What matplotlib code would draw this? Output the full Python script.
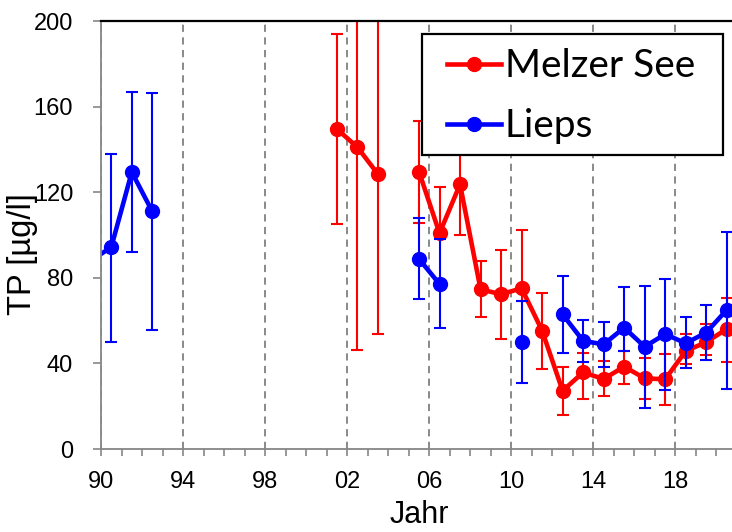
import numpy as np
import matplotlib
matplotlib.use('Agg')
import matplotlib.pyplot as plt
from matplotlib.patches import Rectangle

# Melzer See, Jahresmittel TP (Werte in Jahresmitte)
melzer_years = [2001.5, 2002.5, 2003.5, 2004.5, 2005.5, 2006.5, 2007.5, 2008.5, 2009.5, 2010.5,
                2011.5, 2012.5, 2013.5, 2014.5, 2015.5, 2016.5, 2017.5, 2018.5, 2019.5, 2020.5]
melzer_tp = [149.5, 141, 128.4, np.nan, 129.6, 100.8, 123.7, 74.6, 72.3, 75.1,
             55.3, 27.2, 35.8, 32.7, 38.5, 33, 32.6, 45.8, 49.9, 56.1]
melzer_lo = [105.3, 46.2, 53.9, np.nan, 105.8, 98.6, 99.8, 61.5, 51.5, 69.3,
             37.2, 16.0, 23.2, 24.9, 30.2, 23.5, 20.4, 39.7, 44, 40.5]
melzer_hi = [194, 230, 220, np.nan, 153.4, 122.4, 140, 87.9, 93, 102.2,
             73, 38.5, 45, 41.1, 45.9, 42.4, 44.5, 53.6, 58.4, 70.7]

# Lieps
lieps_years = [1989.5, 1990.5, 1991.5, 1992.5, 1993.5, 2005.5, 2006.5, 2007.5, 2010.5, 2011.5,
               2012.5, 2013.5, 2014.5, 2015.5, 2016.5, 2017.5, 2018.5, 2019.5, 2020.5]
lieps_tp = [88, 94.3, 129.4, 111, np.nan, 88.8, 77.1, np.nan, 50.1, np.nan,
            62.9, 50.5, 48.9, 56.7, 47.8, 53.7, 49.4, 54.4, 65]
lieps_lo = [np.nan, 50.1, 91.9, 55.6, np.nan, 70.1, 56.5, np.nan, 31, np.nan,
            44.9, 40.5, 38.2, 46, 19.3, 27.6, 37.7, 41.6, 28]
lieps_hi = [np.nan, 138, 167, 166.4, np.nan, 107.8, 98, np.nan, 69.3, np.nan,
            80.7, 60.1, 59.3, 75.5, 76.2, 79.3, 61.5, 67.1, 101.2]

major_years = list(range(1990, 2019, 4))


def draw_series(ax, years, vals, lo, hi, color, label):
    years = np.array(years)
    vals = np.array(vals)
    lo = np.array(lo)
    hi = np.array(hi)
    ok = ~np.isnan(lo)
    ax.errorbar(years[ok], vals[ok], yerr=[vals[ok] - lo[ok], hi[ok] - vals[ok]],
                fmt='none', ecolor=color, elinewidth=1.5, capsize=4.5, capthick=1.5)
    ax.plot(years, vals, color=color, lw=3.3, marker='o', ms=10, label=label)


fig = plt.figure(figsize=(7.32, 5.32), dpi=100)
ax = fig.add_axes([101 / 732, 83 / 532, 636 / 732, 428 / 532])

draw_series(ax, melzer_years, melzer_tp, melzer_lo, melzer_hi, '#ff0000', 'Melzer See')
draw_series(ax, lieps_years, lieps_tp, lieps_lo, lieps_hi, '#0000ff', 'Lieps')

ax.set_xlim(1990, 2021)
ax.set_ylim(0, 200)
ax.set_xticks(major_years)
ax.set_xticklabels(['%02d' % (y % 100) for y in major_years])
ax.set_xticks(range(1990, 2022), minor=True)
ax.set_yticks(range(0, 201, 40))

ax.xaxis.grid(True, which='major', color='#808080', lw=1.3, ls=(0, (4, 3)))
ax.set_axisbelow(True)

grey = '#868686'
for s in ['left', 'bottom']:
    ax.spines[s].set_color(grey)
    ax.spines[s].set_linewidth(1.3)
ax.spines['top'].set_color('black')
ax.spines['top'].set_linewidth(1.6)
ax.spines['right'].set_color('black')

ax.tick_params(axis='both', which='both', direction='out', color=grey, width=1.2,
               labelsize=17, labelcolor='black')
ax.tick_params(axis='x', which='both', length=5, pad=11, top=False)
ax.tick_params(axis='y', which='major', length=6, pad=14, right=False)
for lab in ax.get_xticklabels() + ax.get_yticklabels():
    lab.set_fontfamily('Liberation Sans')

ax.set_xlabel('Jahr', fontsize=22, fontfamily='Liberation Sans')
ax.xaxis.set_label_coords(0.5, -0.12)
fig.text(22.4 / 732, 1 - 254.5 / 532, 'TP [µg/l]', fontsize=23.5, fontfamily='Liberation Sans',
         rotation=90, ha='center', va='center')

# Legendenrahmen wie im Original (eckig, schwarz)
ax.add_patch(Rectangle((0.5047, 0.687), 0.4733, 0.2826, transform=ax.transAxes,
                       facecolor='white', edgecolor='black', lw=1.6, zorder=4.5, clip_on=False))
leg = ax.legend(loc='center left', bbox_to_anchor=(0.544, 0.824), borderaxespad=0,
                frameon=False, prop={'family': 'Lato', 'size': 28},
                handlelength=1.39, handletextpad=0.1, labelspacing=0.62, borderpad=0)
leg.set_zorder(5)

plt.savefig('out.png', dpi=100)
